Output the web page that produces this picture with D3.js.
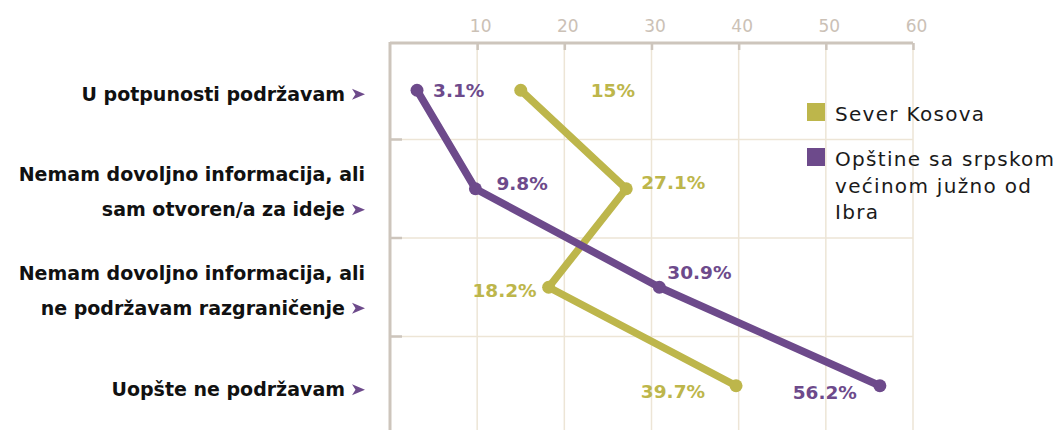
<!DOCTYPE html>
<html>
<head>
<meta charset="utf-8">
<script src="https://cdn.jsdelivr.net/npm/d3@7"></script>
<style>
  body { margin: 0; background: #fff; }
  svg { display: block; font-family: "DejaVu Sans", sans-serif; }
</style>
</head>
<body>
<div id="chart"></div>
<script>
var categories = [
  ["U potpunosti podržavam"],
  ["Nemam dovoljno informacija, ali", "sam otvoren/a za ideje"],
  ["Nemam dovoljno informacija, ali", "ne podržavam razgraničenje"],
  ["Uopšte ne podržavam"]
];
var severValues = [15, 27.1, 18.2, 39.7];
var juznoValues = [3.1, 9.8, 30.9, 56.2];
var seriesNames = [["Sever Kosova"], ["Opštine sa srpskom", "većinom južno od", "Ibra"]];
var tickValues = [10, 20, 30, 40, 50, 60];

var width = 1061, height = 430,
  gold = "#bdb64b", purple = "#6d4a8b",
  axisColor = "#cdc5bc", gridColor = "#ede5d6";

var svg = d3.select("#chart").append("svg")
  .attr("width", width).attr("height", height);

var x = d3.scaleLinear().domain([0, 60]).range([390, 913]);
var y = d3.scaleBand().domain(d3.range(categories.length)).range([41, 435]);

// grid
svg.append("g").selectAll("line.v")
  .data(tickValues).enter().append("line")
  .attr("x1", function (d) { return x(d); }).attr("x2", function (d) { return x(d); })
  .attr("y1", 43).attr("y2", height)
  .attr("stroke", gridColor).attr("stroke-width", 1.5);
svg.append("g").selectAll("line.h")
  .data(d3.range(1, categories.length)).enter().append("line")
  .attr("x1", 390).attr("x2", x(60))
  .attr("y1", function (d) { return y(d); }).attr("y2", function (d) { return y(d); })
  .attr("stroke", gridColor).attr("stroke-width", 1.5);

// top axis
var xAxis = svg.append("g")
  .attr("transform", "translate(0,43)")
  .call(d3.axisTop(x).tickValues(tickValues).tickSize(-7).tickPadding(11));
xAxis.select(".domain").attr("stroke", axisColor).attr("stroke-width", 3)
  .attr("d", "M390,0H" + x(60));
xAxis.selectAll(".tick line").attr("stroke", axisColor).attr("stroke-width", 2.5);
xAxis.selectAll(".tick text").attr("fill", "#cbc1b6").attr("dx", 3)
  .style("font-size", "17px").style("font-family", "DejaVu Sans, sans-serif");

// left axis
svg.append("line").attr("x1", 390).attr("x2", 390).attr("y1", 42).attr("y2", height)
  .attr("stroke", axisColor).attr("stroke-width", 3);
svg.append("g").selectAll("line")
  .data(d3.range(1, categories.length)).enter().append("line")
  .attr("x1", 389).attr("x2", 402)
  .attr("y1", function (d) { return y(d); }).attr("y2", function (d) { return y(d); })
  .attr("stroke", axisColor).attr("stroke-width", 2.5);

// category labels
var cat = svg.append("g").selectAll("g")
  .data(categories).enter().append("g");
cat.each(function (lines, i) {
  var g = d3.select(this);
  var mid = y(i) + y.bandwidth() / 2;
  var offs = lines.length === 1 ? [4] : [-14, 21];
  lines.forEach(function (l, j) {
    var last = j === lines.length - 1;
    g.append("text")
      .attr("x", last ? 345 : 365).attr("y", mid + offs[j]).attr("dy", "0.35em")
      .attr("text-anchor", "end")
      .attr("font-weight", 700).attr("font-size", "19px").attr("fill", "#111")
      .text(l);
    if (last) {
      // little arrowhead after the label
      g.append("path")
        .attr("transform", "translate(352," + (mid + offs[j]) + ")")
        .attr("d", "M0,-5.5L13,0L0,5.5L3.5,0Z")
        .attr("fill", purple);
    }
  });
});

// lines
var line = d3.line()
  .x(function (d) { return x(d); })
  .y(function (d, i) { return y(i) + y.bandwidth() / 2; });

var series = [
  { values: severValues, color: gold,
    labels: [[70, 0, "start"], [15, -6, "start"], [-12, 3, "end"], [-31, 6, "end"]] },
  { values: juznoValues, color: purple,
    labels: [[16, 0, "start"], [21, -5, "start"], [8, -15, "start"], [-23, 7, "end"]] }
];

series.forEach(function (s) {
  svg.append("path").datum(s.values)
    .attr("d", line).attr("fill", "none")
    .attr("stroke", s.color).attr("stroke-width", 7.5).attr("stroke-linejoin", "round");
  svg.append("g").selectAll("circle")
    .data(s.values).enter().append("circle")
    .attr("cx", function (d) { return x(d); })
    .attr("cy", function (d, i) { return y(i) + y.bandwidth() / 2; })
    .attr("r", 6.5).attr("fill", s.color);
  svg.append("g").selectAll("text")
    .data(s.values).enter().append("text")
    .attr("x", function (d, i) { return x(d) + s.labels[i][0]; })
    .attr("y", function (d, i) { return y(i) + y.bandwidth() / 2 + s.labels[i][1]; })
    .attr("dy", "0.35em")
    .attr("text-anchor", function (d, i) { return s.labels[i][2]; })
    .attr("font-weight", 700).attr("font-size", "18.5px").attr("fill", s.color)
    .text(function (d) { return d + "%"; });
});

// legend
var legend = svg.append("g").attr("transform", "translate(807,103)");
var legendY = [0, 45];
seriesNames.forEach(function (name, i) {
  var g = legend.append("g").attr("transform", "translate(0," + legendY[i] + ")");
  g.append("rect").attr("width", 18).attr("height", 18).attr("fill", series[i].color);
  name.forEach(function (l, j) {
    g.append("text").attr("x", 28).attr("y", 11 + j * 26.5).attr("dy", "0.35em")
      .attr("font-size", "20px").attr("letter-spacing", "1.3px")
      .attr("fill", "#1a1a1a").text(l);
  });
});
</script>
</body>
</html>
